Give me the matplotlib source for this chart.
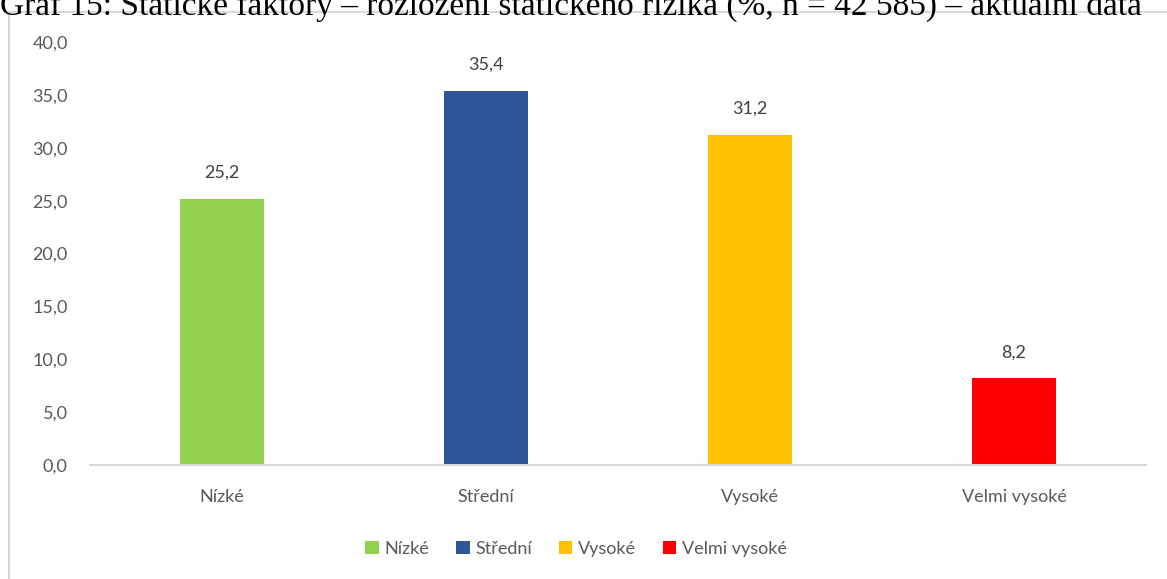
import matplotlib
matplotlib.use("Agg")
import matplotlib.pyplot as plt
from matplotlib.patches import Rectangle, Patch

categories = ["Nízké", "Střední", "Vysoké", "Velmi vysoké"]
values = [25.2, 35.4, 31.2, 8.2]
colors = ["#92d050", "#2f5597", "#ffc000", "#ff0000"]
yticks = [0, 5, 10, 15, 20, 25, 30, 35, 40]
title = "Graf 15: Statické faktory – rozložení statického rizika (%, n = 42 585) – aktuální data"

plt.rcParams['font.family'] = ['Lato', 'DejaVu Sans']

fig = plt.figure(figsize=(11.67, 5.79), dpi=100)
W, H = 1167, 579

# frame
fig.patches.append(Rectangle((8.5 / W, -0.1), 1.2, 1 - 11.5 / H + 0.1,
                             transform=fig.transFigure, fill=False,
                             edgecolor="#d9d9d9", linewidth=1.5, zorder=0))

fig.text(0.0, 1 - 15 / H, title, family=['Liberation Serif'], fontsize=24,
         color="black", ha="left", va="baseline")

ax = fig.add_axes([90 / W, 1 - 465 / H, (1146 - 90) / W, (465 - 42) / H])
x = list(range(len(categories)))
bars = ax.bar(x, values, width=0.315, color=colors, zorder=2)
ax.set_xlim(-0.5, len(categories) - 0.5)
ax.set_ylim(0, 40)
ax.set_yticks(yticks)
ax.set_yticklabels([f"{v:.1f}".replace(".", ",") for v in yticks])
ax.set_xticks(x)
ax.set_xticklabels(categories)
for s in ["top", "right", "left"]:
    ax.spines[s].set_visible(False)
ax.spines["bottom"].set_color("#d9d9d9")
ax.spines["bottom"].set_linewidth(1.5)
ax.tick_params(axis="both", length=0, labelsize=13, labelcolor="#595959")
ax.tick_params(axis="y", pad=16)
ax.tick_params(axis="x", pad=17)

for xi, v in zip(x, values):
    ax.annotate(f"{v:.1f}".replace(".", ","), (xi, v), xytext=(0, 13),
                textcoords="offset points", ha="center", va="bottom",
                fontsize=13, color="#404040")

handles = [Patch(facecolor=c, edgecolor="none") for c in colors]
fig.legend(handles, categories, loc="center", bbox_to_anchor=(576 / W, 1 - 549 / H),
           ncol=4, frameon=False, fontsize=13, labelcolor="#595959",
           handlelength=0.75, handleheight=0.75, handletextpad=0.3, columnspacing=1.5)

fig.savefig("out.png", dpi=100)
